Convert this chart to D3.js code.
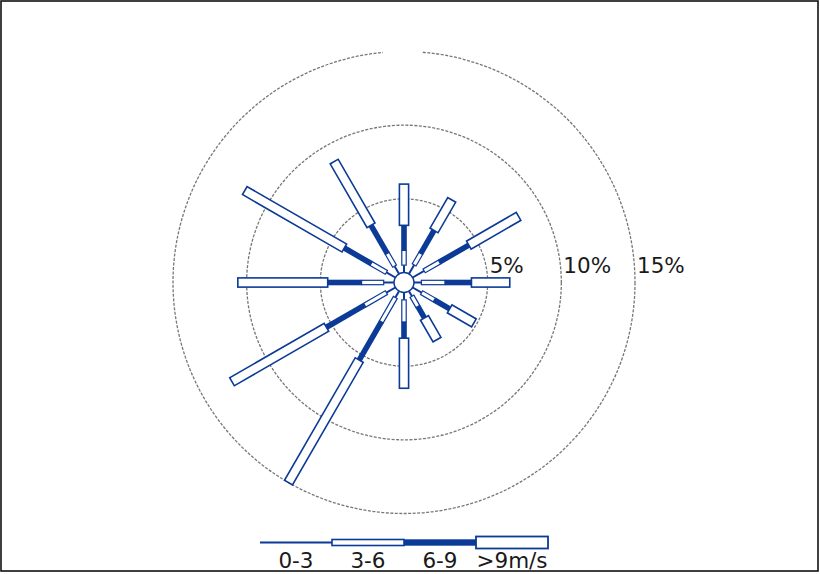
<!DOCTYPE html>
<html>
<head>
<meta charset="utf-8">
<script src="https://cdn.jsdelivr.net/npm/d3@7"></script>
<style>
  html, body { margin: 0; padding: 0; background: #fff; }
  svg { display: block; }
  text { font-family: "DejaVu Sans", Verdana, sans-serif; fill: #1a1a1a; }
</style>
</head>
<body>
<svg id="chart" width="820" height="574"></svg>
<script>
// Wind directions (degrees clockwise from north)
const directions = [0, 30, 60, 90, 120, 150, 180, 210, 240, 270, 300, 330];
// Frequency (%) per speed class for each direction
const speed0to3 = [0.5, 0.7, 0.9, 0.5, 0.7, 0.4, 0.5, 0.5, 0.7, 0.7, 0.7, 0.6];
const speed3to6 = [1.0, 0.9, 1.2, 1.6, 1.0, 0.8, 1.5, 1.9, 1.7, 1.5, 1.2, 1.0];
const speed6to9 = [1.7, 1.8, 2.3, 1.8, 1.2, 0.9, 1.1, 3.0, 3.0, 2.3, 2.1, 2.2];
const speedOver9 = [2.8, 2.4, 3.9, 2.6, 1.9, 1.7, 3.4, 9.6, 7.4, 6.1, 7.8, 5.0];
// Speed class names
const speedClasses = ["0-3", "3-6", "6-9", ">9m/s"];
// Grid rings (%) and their labels
const ringValues = [5, 10, 15];
const ringLabels = ["5%", "10%", "15%"];

const blue = "#0b3a97";
const svg = d3.select("#chart");
const cx = 404, cy = 282.5;

// outer frame
svg.append("rect")
  .attr("x", 1).attr("y", 1).attr("width", 817).attr("height", 570)
  .attr("fill", "none").attr("stroke", "#111").attr("stroke-width", 1.6);

const r = d3.scaleLinear().domain([0, 15]).range([10, 231]);

const g = svg.append("g").attr("transform", `translate(${cx},${cy})`);

// dashed grid rings
g.selectAll("circle.ring").data(ringValues).join("circle")
  .attr("class", "ring")
  .attr("r", d => r(d))
  .attr("fill", "none")
  .attr("stroke", "#777")
  .attr("stroke-width", 1.3)
  .attr("stroke-dasharray", "3,1.5");

// blank slot on the outer ring at north
g.append("rect")
  .attr("x", -21).attr("y", -r(15) - 4).attr("width", 39).attr("height", 8)
  .attr("fill", "#fff");

// ring labels
g.selectAll("text.ring").data(ringValues).join("text")
  .attr("class", "ring")
  .attr("x", d => r(d) + 2)
  .attr("y", -9.5)
  .attr("font-size", 21.5)
  .text((d, i) => ringLabels[i]);

// stacked arms
const rows = directions.map((dir, i) => {
  const c1 = speed0to3[i];
  const c2 = c1 + speed3to6[i];
  const c3 = c2 + speed6to9[i];
  const c4 = c3 + speedOver9[i];
  return { dir, c1, c2, c3, c4 };
});

const arms = g.selectAll("g.arm").data(rows).join("g")
  .attr("class", "arm")
  .attr("transform", d => `rotate(${d.dir})`);

// 0-3: thin line
arms.append("line")
  .attr("x1", 0).attr("x2", 0)
  .attr("y1", -r(0)).attr("y2", d => -r(d.c1))
  .attr("stroke", blue).attr("stroke-width", 2);

// 3-6: narrow outlined bar
arms.append("rect")
  .attr("x", -2.2).attr("width", 4.4)
  .attr("y", d => -r(d.c2)).attr("height", d => r(d.c2) - r(d.c1))
  .attr("fill", "#fff").attr("stroke", blue).attr("stroke-width", 1.2);

// 6-9: solid bar
arms.append("rect")
  .attr("x", -2.8).attr("width", 5.6)
  .attr("y", d => -r(d.c3)).attr("height", d => r(d.c3) - r(d.c2))
  .attr("fill", blue);

// >9: wide outlined bar
arms.append("rect")
  .attr("x", -4.6).attr("width", 9.2)
  .attr("y", d => -r(d.c4)).attr("height", d => r(d.c4) - r(d.c3))
  .attr("fill", "#fff").attr("stroke", blue).attr("stroke-width", 1.6);

// hub
g.append("circle").attr("r", r(0))
  .attr("fill", "#fff").attr("stroke", blue).attr("stroke-width", 1.4);

// legend
const lx = d3.scaleBand().domain(speedClasses).range([260, 548]);
const ly = 542.5;
const leg = svg.append("g");
leg.append("line")
  .attr("x1", lx("0-3")).attr("x2", lx("0-3") + lx.bandwidth())
  .attr("y1", ly).attr("y2", ly)
  .attr("stroke", blue).attr("stroke-width", 1.8);
leg.append("rect")
  .attr("x", lx("3-6")).attr("width", lx.bandwidth())
  .attr("y", ly - 3).attr("height", 6)
  .attr("fill", "#fff").attr("stroke", blue).attr("stroke-width", 1.6);
leg.append("rect")
  .attr("x", lx("6-9")).attr("width", lx.bandwidth())
  .attr("y", ly - 3.2).attr("height", 6.4)
  .attr("fill", blue);
leg.append("rect")
  .attr("x", lx(">9m/s")).attr("width", lx.bandwidth())
  .attr("y", ly - 6).attr("height", 12)
  .attr("fill", "#fff").attr("stroke", blue).attr("stroke-width", 1.8);

leg.selectAll("text").data(speedClasses).join("text")
  .attr("x", d => lx(d) + lx.bandwidth() / 2)
  .attr("y", 567.5)
  .attr("text-anchor", "middle")
  .attr("font-size", 21.5)
  .text(d => d);
</script>
</body>
</html>
